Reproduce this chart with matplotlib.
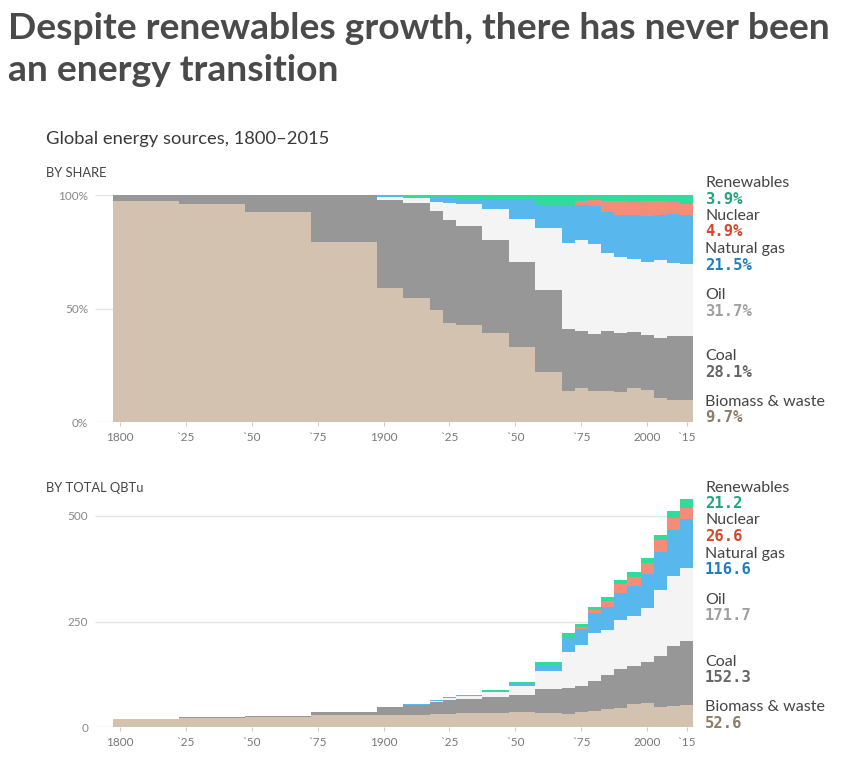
import numpy as np
import matplotlib
matplotlib.use('Agg')
import matplotlib.pyplot as plt

# =============================================================================
# Data (QBTu)
# =============================================================================
years = [1800, 1825, 1850, 1875, 1900, 1910, 1920, 1925, 1930, 1940, 1950,
         1960, 1970, 1975, 1980, 1985, 1990, 1995, 2000, 2005, 2010, 2015]

biomass    = [20.1, 22.8, 25.5, 28.2, 28.8, 29.9, 32.0, 31.7, 32.7, 34.8, 36.0,
              34.3, 31.3, 36.8, 38.9, 42.5, 45.8, 55.5, 57.5, 48.5, 49.5, 52.6]
coal       = [0.5, 0.9, 2.0, 7.3, 18.9, 22.8, 28.2, 32.7, 33.4, 35.9, 40.3,
              56.1, 60.5, 61.5, 71.5, 81.0, 91.0, 90.3, 96.3, 119.8, 143.5, 152.3]
oil        = [0, 0, 0, 0, 0.65, 1.0, 2.65, 5.5, 7.3, 12.3, 20.5,
              42.2, 85.3, 97.4, 113.0, 106.0, 117.2, 117.0, 128.3, 156.7, 165.7, 171.7]
gas        = [0, 0, 0, 0, 0.3, 0.4, 1.0, 1.45, 1.75, 3.5, 8.6,
              15.9, 37.0, 37.9, 47.3, 55.2, 64.7, 71.0, 81.3, 90.7, 108.9, 116.6]
nuclear    = [0, 0, 0, 0, 0, 0, 0, 0, 0, 0, 0,
              0, 0.5, 3.9, 7.9, 15.0, 20.5, 22.1, 25.2, 27.6, 27.6, 26.6]
renewables = [0, 0, 0, 0, 0.2, 0.4, 0.9, 1.1, 1.3, 1.75, 2.6,
              6.5, 9.5, 6.3, 6.3, 7.9, 9.5, 10.9, 11.0, 11.8, 15.7, 21.2]

names        = ['Biomass & waste', 'Coal', 'Oil', 'Natural gas', 'Nuclear', 'Renewables']
share_labels = ['9.7%', '28.1%', '31.7%', '21.5%', '4.9%', '3.9%']
total_labels = ['52.6', '152.3', '171.7', '116.6', '26.6', '21.2']

tick_years  = [1800, 1825, 1850, 1875, 1900, 1925, 1950, 1975, 2000, 2015]
tick_labels = ['1800', '`25', '`50', '`75', '1900', '`25', '`50', '`75', '2000', '`15']

# =============================================================================
# Style
# =============================================================================
fill_colors = ['#d4c2b0', '#979797', '#f4f4f4', '#58b7ec', '#f48c78', '#2fdc9c']
text_colors = ['#8c7b65', '#666666', '#a0a0a0', '#1c7fc2', '#d8452b', '#1fa677']
TXT = '#444444'
GRID = '#e4e4e4'
FONT = 'Lato'

W, H = 846, 764
X_LEFT_PX = 95
X_RIGHT_PX = 693.3
PX_PER_YEAR = 2.636
x_min = 1800 - (120 - X_LEFT_PX) / PX_PER_YEAR
x_max = 2017.5

# step edges: each value starts 2.5 years before its nominal year
edges = np.array(years + [x_max + 2.5], dtype=float) - 2.5

series = np.array([biomass, coal, oil, gas, nuclear, renewables])
totals = series.sum(axis=0)
shares = series / totals * 100


def stacked_steps(ax, values):
    vals = np.hstack([values, values[:, -1:]])
    ax.stackplot(edges, vals, colors=fill_colors, step='post',
                 linewidth=0, zorder=2)


def style_axis(ax, yticks, yticklabels, ymax):
    ax.set_xlim(x_min, x_max)
    ax.set_ylim(0, ymax)
    for s in ax.spines.values():
        s.set_visible(False)
    ax.hlines(yticks, x_min, x_max, color=GRID, lw=1, zorder=0)
    ax.set_yticks(yticks)
    ax.set_yticklabels(yticklabels, fontsize=8.5, color='#888888', family=FONT)
    ax.tick_params(axis='y', length=0, pad=5)
    ax.set_xticks(tick_years)
    ax.set_xticklabels(tick_labels, fontsize=8.5, color='#777777', family=FONT)
    ax.tick_params(axis='x', length=3, width=0.8, color='#cccccc', pad=4)


def side_labels(base_px, values_txt):
    # offsets (px above the axis baseline) of the name labels
    offsets = [20.3, 65.8, 127.3, 173.3, 206.8, 239.3]
    for name, val, col, off in zip(names, values_txt, text_colors, offsets):
        y_name = base_px - off
        fig.text(705 / W, 1 - y_name / H, name, fontsize=11.5, color=TXT,
                 family=FONT, va='center', ha='left')
        fig.text(705 / W, 1 - (y_name + 16) / H, val, fontsize=11.2, color=col,
                 family='DejaVu Sans Mono', weight='bold', va='center', ha='left')


fig = plt.figure(figsize=(W / 100, H / 100), dpi=100)

fig.text(8 / W, 1 - 12 / H,
         'Despite renewables growth, there has never been\nan energy transition',
         fontsize=26.8, weight='bold', color='#4a4a4a', family=FONT,
         va='top', ha='left', linespacing=1.33)
fig.text(46 / W, 1 - 139 / H, 'Global energy sources, 1800–2015', fontsize=13.2,
         color='#3a3a3a', family=FONT, va='center', ha='left')
fig.text(46 / W, 1 - 173 / H, 'BY SHARE', fontsize=9.3, color=TXT, family=FONT,
         va='center', ha='left')
fig.text(46 / W, 1 - 488 / H, 'BY TOTAL QBTu', fontsize=9.3, color=TXT, family=FONT,
         va='center', ha='left')

# ── By share ─────────────────────────────────────────────────────────────────
top_base = 422.3
ax1 = fig.add_axes([X_LEFT_PX / W, 1 - top_base / H,
                    (X_RIGHT_PX - X_LEFT_PX) / W, 227.3 / H])
stacked_steps(ax1, shares)
style_axis(ax1, [0, 50, 100], ['0%', '50%', '100%'], 100)
side_labels(top_base, share_labels)

# ── By total ─────────────────────────────────────────────────────────────────
bot_base = 727.3
px_per_unit = 0.4227
ymax = 560
ax2 = fig.add_axes([X_LEFT_PX / W, 1 - bot_base / H,
                    (X_RIGHT_PX - X_LEFT_PX) / W, ymax * px_per_unit / H])
stacked_steps(ax2, series)
style_axis(ax2, [0, 250, 500], ['0', '250', '500'], ymax)
side_labels(bot_base, total_labels)

fig.savefig('out.png', dpi=100)
